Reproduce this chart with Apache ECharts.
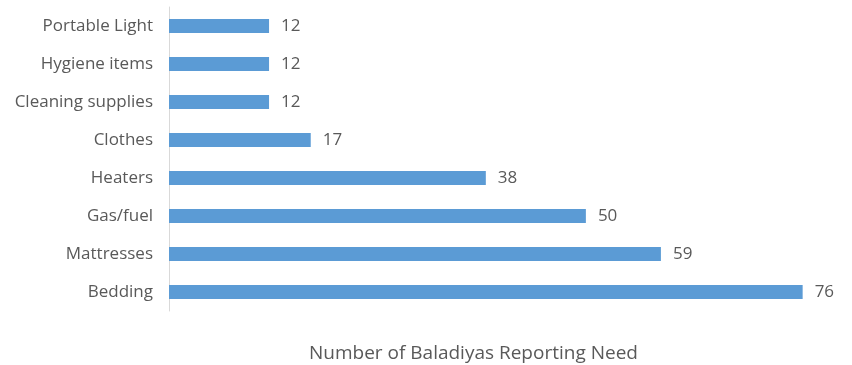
<!DOCTYPE html>
<html>
<head>
<meta charset="utf-8">
<script src="https://cdn.jsdelivr.net/npm/echarts@6/dist/echarts.min.js"></script>
<style>
  html, body { margin: 0; padding: 0; background: #fff; }
  #chart { width: 852px; height: 365px; }
</style>
</head>
<body>
<div id="chart"></div>
<script>
// bottom to top
var categories = ['Bedding', 'Mattresses', 'Gas/fuel', 'Heaters', 'Clothes', 'Cleaning supplies', 'Hygiene items', 'Portable Light']
var values = [76, 59, 50, 38, 17, 12, 12, 12]
var axisTitle = 'Number of Baladiyas Reporting Need'

var myChart = echarts.init(document.getElementById('chart'))
var font = '"Open Sans", sans-serif'

var option = {
  animation: false,
  title: {
    text: axisTitle,
    left: 304,
    top: 339,
    textStyle: { color: '#595959', fontSize: 19, fontWeight: 'normal', fontFamily: font }
  },
  grid: {
    left: 169,
    width: 667,
    top: 7,
    height: 304
  },
  xAxis: {
    type: 'value',
    min: 0,
    max: 80,
    show: false
  },
  yAxis: {
    type: 'category',
    data: categories,
    axisLine: { show: true, lineStyle: { color: '#d9d9d9', width: 1 } },
    axisTick: { show: false },
    axisLabel: {
      color: '#595959',
      fontSize: 17,
      fontFamily: font,
      margin: 16
    }
  },
  series: [
    {
      type: 'bar',
      data: values,
      barWidth: 14,
      itemStyle: { color: '#5b9bd5' },
      label: {
        show: true,
        position: 'right',
        distance: 12,
        color: '#595959',
        fontSize: 17,
        fontFamily: font
      }
    }
  ]
}

myChart.setOption(option)
</script>
</body>
</html>
